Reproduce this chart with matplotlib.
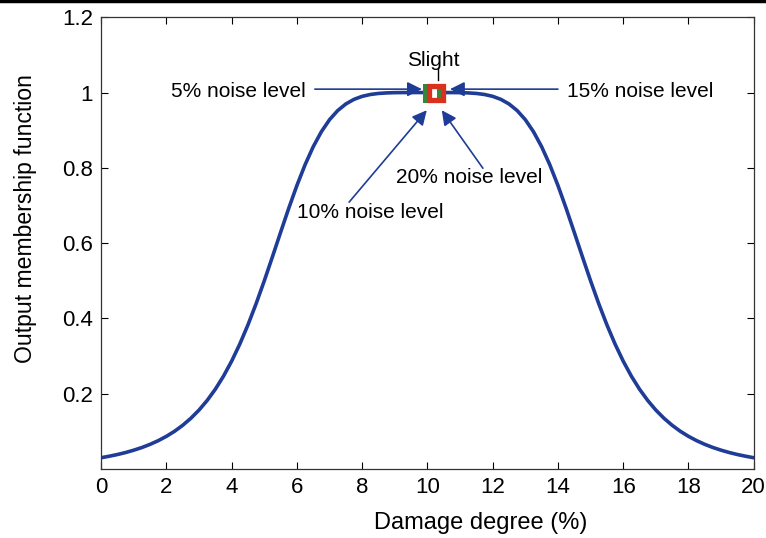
import matplotlib
matplotlib.use("Agg")
import matplotlib.pyplot as plt
from matplotlib.lines import Line2D
import numpy as np

plt.rcParams['font.family'] = ['Liberation Sans', 'DejaVu Sans']

# output membership curve for the "Slight" class, sampled every 0.25 %
damage = [0, 0.25, 0.5, 0.75, 1, 1.25, 1.5, 1.75, 2, 2.25, 2.5, 2.75,
          3, 3.25, 3.5, 3.75, 4, 4.25, 4.5, 4.75, 5, 5.25, 5.5, 5.75,
          6, 6.25, 6.5, 6.75, 7, 7.25, 7.5, 7.75, 8, 8.25, 8.5, 8.75,
          9, 9.25, 9.5, 9.75, 10, 10.25, 10.5, 10.75, 11, 11.25, 11.5,
          11.75, 12, 12.25, 12.5, 12.75, 13, 13.25, 13.5, 13.75, 14,
          14.25, 14.5, 14.75, 15, 15.25, 15.5, 15.75, 16, 16.25, 16.5,
          16.75, 17, 17.25, 17.5, 17.75, 18, 18.25, 18.5, 18.75, 19,
          19.25, 19.5, 19.75, 20]
membership = [0.0303, 0.0343, 0.0388, 0.0441, 0.0503, 0.0574, 0.0658,
              0.0756, 0.0871, 0.1005, 0.1164, 0.1350, 0.1568, 0.1824,
              0.2122, 0.2468, 0.2867, 0.3321, 0.3831, 0.4393, 0.5000,
              0.5638, 0.6287, 0.6927, 0.7532, 0.8082, 0.8561, 0.8960,
              0.9279, 0.9521, 0.9697, 0.9819, 0.9899, 0.9948, 0.9976,
              0.9990, 0.9997, 0.9999, 1.0000, 1.0000, 1.0000,
              1.0000, 1.0000, 0.9999, 0.9997, 0.9990, 0.9976, 0.9948,
              0.9899, 0.9819, 0.9697, 0.9521, 0.9279, 0.8960, 0.8561,
              0.8082, 0.7532, 0.6927, 0.6287, 0.5638, 0.5000, 0.4393,
              0.3831, 0.3321, 0.2867, 0.2468, 0.2122, 0.1824, 0.1568,
              0.1350, 0.1164, 0.1005, 0.0871, 0.0756, 0.0658, 0.0574,
              0.0503, 0.0441, 0.0388, 0.0343, 0.0303]

# identified output for each noise level
noise_labels = ['5% noise level', '10% noise level',
                '15% noise level', '20% noise level']
noise_x = [10.14, 10.14, 10.26, 10.26]
noise_y = [1.0, 1.0, 1.0, 1.0]

blue = '#1f3c96'

fig = plt.figure(figsize=(7.66, 5.38), dpi=100)
ax = fig.add_axes([0.132, 0.128, 0.852, 0.840])

ax.plot(damage, membership, color=blue, lw=2.6, solid_capstyle='round')

# overlapping result markers
ax.plot(noise_x[0], noise_y[0], 's', ms=10, mfc='white', mec='#2e8b3a',
        mew=3.6, zorder=5)
ax.plot(noise_x[2], noise_y[2], 's', ms=10, mfc='none', mec='#d8321e',
        mew=3.8, zorder=6)

ax.text(10.17, 1.085, 'Slight', ha='center', va='center', fontsize=15)
ax.plot([10.32, 10.32], [1.033, 1.064], color='black', lw=1)

arrow = dict(arrowstyle='-|>', color=blue, lw=1.2, mutation_scale=22,
             shrinkA=0, shrinkB=0)
ax.annotate('', xy=(9.83, 1.009), xytext=(6.55, 1.009), arrowprops=arrow)
ax.text(6.28, 1.003, noise_labels[0], ha='right', va='center', fontsize=15)

ax.annotate('', xy=(9.98, 0.953), xytext=(7.6, 0.709), arrowprops=arrow)
ax.text(6.0, 0.682, noise_labels[1], ha='left', va='center', fontsize=15)

ax.annotate('', xy=(10.69, 1.009), xytext=(14.0, 1.009), arrowprops=arrow)
ax.text(14.27, 1.003, noise_labels[2], ha='left', va='center', fontsize=15)

ax.annotate('', xy=(10.44, 0.953), xytext=(11.7, 0.799), arrowprops=arrow)
ax.text(9.04, 0.775, noise_labels[3], ha='left', va='center', fontsize=15)

ax.set_xlim(0, 20)
ax.set_ylim(0, 1.2)
ax.set_xticks(np.arange(0, 21, 2))
ax.set_yticks([0.2, 0.4, 0.6, 0.8, 1.0, 1.2])
ax.set_yticklabels(['0.2', '0.4', '0.6', '0.8', '1', '1.2'])
ax.tick_params(direction='in', length=5, width=0.8, labelsize=16,
               top=True, right=True, pad=6)
for s in ax.spines.values():
    s.set_linewidth(0.9)
    s.set_color('#333333')

ax.set_xlabel('Damage degree (%)', fontsize=17, va='center')
ax.xaxis.set_label_coords(0.582, -0.119)
ax.set_ylabel('Output membership function', fontsize=16.6, va='center')
ax.yaxis.set_label_coords(-0.116, 0.555)

fig.add_artist(Line2D([0, 1], [0.998, 0.998], color='black', lw=2.5,
                      transform=fig.transFigure))

fig.savefig('out.png', dpi=100)
